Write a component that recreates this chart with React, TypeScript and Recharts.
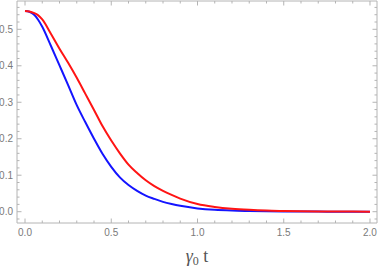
import { LineChart, Line, XAxis, YAxis } from 'recharts';

// time points (gamma0 * t)
const tValues = [
  0, 0.025, 0.05, 0.075, 0.1, 0.15, 0.2, 0.25, 0.3, 0.35, 0.4, 0.45, 0.5, 0.55, 0.6,
  0.65, 0.7, 0.75, 0.8, 0.85, 0.9, 1.0, 1.1, 1.2, 1.3, 1.4, 1.5, 1.6, 1.7, 1.8, 1.9, 2.0,
];

// blue curve (faster decay)
const blueValues = [
  0.55, 0.548, 0.541, 0.527, 0.507, 0.455, 0.401, 0.347, 0.292, 0.245, 0.2, 0.158,
  0.123, 0.094, 0.073, 0.057, 0.044, 0.035, 0.027, 0.021, 0.016, 0.009, 0.005, 0.003,
  0.002, 0.0012, 0.0007, 0.0004, 0.0002, 0.0001, 0.0001, 0,
];

// red curve (slower decay)
const redValues = [
  0.55, 0.549, 0.545, 0.539, 0.527, 0.488, 0.447, 0.408, 0.367, 0.323, 0.279, 0.234,
  0.195, 0.16, 0.129, 0.106, 0.086, 0.07, 0.057, 0.046, 0.036, 0.021, 0.013, 0.008,
  0.005, 0.003, 0.002, 0.0012, 0.0007, 0.0004, 0.0002, 0.0001,
];

const xTicks = [
  0, 0.1, 0.2, 0.3, 0.4, 0.5, 0.6, 0.7, 0.8, 0.9, 1.0, 1.1, 1.2, 1.3, 1.4, 1.5, 1.6,
  1.7, 1.8, 1.9, 2.0,
];
const xLabels = ['0.0', '0.5', '1.0', '1.5', '2.0'];

const yTicks = [
  -0.02, 0, 0.02, 0.04, 0.06, 0.08, 0.1, 0.12, 0.14, 0.16, 0.18, 0.2, 0.22, 0.24, 0.26,
  0.28, 0.3, 0.32, 0.34, 0.36, 0.38, 0.4, 0.42, 0.44, 0.46, 0.48, 0.5, 0.52, 0.54, 0.56,
];
const yLabels = ['0.0', '0.1', '0.2', '0.3', '0.4', '0.5'];

const data = tValues.map((t, i) => ({ t, blue: blueValues[i], red: redValues[i] }));

const FRAME = '#b4b4b4';
const TEXT = '#7a7a7a';
const FONT = '"Liberation Sans", Arial, sans-serif';

const isMajor = (v: number, step: number) => Math.abs(v / step - Math.round(v / step)) < 1e-6;

const XTick = ({ x, y, payload, side }: any) => {
  const v = payload.value;
  const major = isMajor(v, 0.5);
  const len = major ? 4.5 : 2.5;
  const dir = side === 'top' ? 1 : -1;
  const label = xLabels.find((l) => Math.abs(parseFloat(l) - v) < 1e-6);
  return (
    <g>
      <line x1={x} y1={y} x2={x} y2={y + dir * len} stroke={FRAME} strokeWidth={1} />
      {side !== 'top' && label && (
        <text x={x} y={y + 13} textAnchor="middle" fill={TEXT} fontSize={10} fontFamily={FONT}>
          {label}
        </text>
      )}
    </g>
  );
};

const YTick = ({ x, y, payload, side }: any) => {
  const v = payload.value;
  const major = isMajor(v, 0.1);
  const len = major ? 4.5 : 2.5;
  const dir = side === 'right' ? -1 : 1;
  const label = yLabels.find((l) => Math.abs(parseFloat(l) - v) < 1e-6);
  return (
    <g>
      <line x1={x} y1={y} x2={x + dir * len} y2={y} stroke={FRAME} strokeWidth={1} />
      {side !== 'right' && label && (
        <text x={x - 4} y={y + 3.5} textAnchor="end" fill={TEXT} fontSize={10} fontFamily={FONT}>
          {label}
        </text>
      )}
    </g>
  );
};

const AxisTitle = () => (
  <text x={197} y={262} textAnchor="middle" fill="#555" fontFamily='"Liberation Serif", "DejaVu Serif", serif' fontSize={18}>
    <tspan fontStyle="italic">γ</tspan>
    <tspan fontSize={12} dy={3}>0</tspan>
    <tspan dy={-3}> t</tspan>
  </text>
);

export default function App() {
  const xDomain = [-0.0464, 2.0406];
  const yDomain = [-0.031, 0.5776];
  return (
    <div style={{ position: 'absolute', left: 0, top: 0, background: '#fff' }}>
      <LineChart width={379} height={273} data={data} margin={{ top: 0, right: 1, left: 16, bottom: 49 }}>
        <XAxis
          dataKey="t"
          type="number"
          domain={xDomain}
          allowDataOverflow
          ticks={xTicks}
          interval={0}
          height={1}
          tickSize={0}
          tickMargin={0}
          tickLine={false}
          axisLine={{ stroke: FRAME }}
          tick={<XTick side="bottom" />}
          label={{ content: <AxisTitle /> }}
        />
        <XAxis
          xAxisId="top"
          orientation="top"
          dataKey="t"
          type="number"
          domain={xDomain}
          allowDataOverflow
          ticks={xTicks}
          interval={0}
          height={1}
          tickSize={0}
          tickMargin={0}
          tickLine={false}
          axisLine={{ stroke: FRAME }}
          tick={<XTick side="top" />}
        />
        <YAxis
          type="number"
          domain={yDomain}
          allowDataOverflow
          ticks={yTicks}
          interval={0}
          width={1}
          tickSize={0}
          tickMargin={0}
          tickLine={false}
          axisLine={{ stroke: FRAME }}
          tick={<YTick side="left" />}
        />
        <YAxis
          yAxisId="right"
          orientation="right"
          type="number"
          domain={yDomain}
          allowDataOverflow
          ticks={yTicks}
          interval={0}
          width={1}
          tickSize={0}
          tickMargin={0}
          tickLine={false}
          axisLine={{ stroke: FRAME }}
          tick={<YTick side="right" />}
        />
        <Line type="monotone" dataKey="blue" stroke="#1414ff" strokeWidth={2} dot={false} isAnimationActive={false} />
        <Line type="monotone" dataKey="red" stroke="#ff1414" strokeWidth={2} dot={false} isAnimationActive={false} />
      </LineChart>
    </div>
  );
}
